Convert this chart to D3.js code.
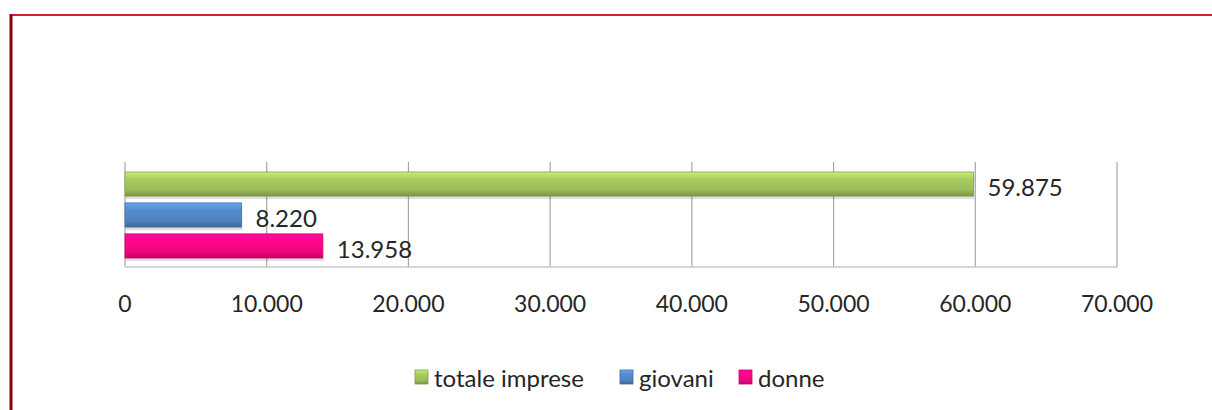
<!DOCTYPE html>
<html>
<head>
<meta charset="utf-8">
<script src="https://cdn.jsdelivr.net/npm/d3@7"></script>
<style>
  body { margin: 0; background: #fff; }
  text { font-family: Lato, "Open Sans", sans-serif; fill: #262626; }
</style>
</head>
<body>
<svg id="chart" width="1212" height="410"></svg>
<script>
// data
const categories = ["totale imprese", "giovani", "donne"];
const values = [59875, 8220, 13958];
const tickValues = [0, 10000, 20000, 30000, 40000, 50000, 60000, 70000];
const colors = ["#9bbb59", "#4f81bd", "#f0067f"];

const svg = d3.select("#chart");
const margin = {top: 163, left: 125, right: 95, bottom: 143};
const width = 1212 - margin.left - margin.right;
const height = 410 - margin.top - margin.bottom;

// red frame (top and left only visible)
svg.append("line").attr("x1", 10).attr("x2", 1212).attr("y1", 15).attr("y2", 15)
    .attr("stroke", "#d0202a").attr("stroke-width", 2);
svg.append("line").attr("x1", 11).attr("x2", 11).attr("y1", 14).attr("y2", 410)
    .attr("stroke", "#8a0008").attr("stroke-width", 3);

// gradients for the bevelled bars
let defs = svg.append("defs");
colors.forEach((c, i) => {
    let g = defs.append("linearGradient").attr("id", "grad" + i)
        .attr("x1", 0).attr("x2", 0).attr("y1", 0).attr("y2", 1);
    g.append("stop").attr("offset", "0%").attr("stop-color", d3.color(c).brighter(0.7));
    g.append("stop").attr("offset", "30%").attr("stop-color", d3.color(c).brighter(0.25));
    g.append("stop").attr("offset", "75%").attr("stop-color", c);
    g.append("stop").attr("offset", "100%").attr("stop-color", d3.color(c).darker(0.7));
});

let x = d3.scaleLinear().domain([0, 70000]).range([0, width]);
let y = d3.scaleBand().domain(categories).range([0, height]).paddingInner(0.22).paddingOuter(0.29);

let g = svg.append("g").attr("transform", `translate(${margin.left},${margin.top})`);

// gridlines
g.selectAll(".grid").data(tickValues).enter().append("line")
    .attr("x1", d => x(d)).attr("x2", d => x(d))
    .attr("y1", -1).attr("y2", height)
    .attr("stroke", "#a6a6a6").attr("stroke-width", 1.2);
g.append("line").attr("x1", 0).attr("x2", width).attr("y1", height).attr("y2", height)
    .attr("stroke", "#c8c8c8").attr("stroke-width", 1.5);

// soft shadow under bars
g.selectAll(".shadow").data(values).enter().append("rect")
    .attr("x", 1)
    .attr("y", (d, i) => y(categories[i]) + 3)
    .attr("width", d => x(d))
    .attr("height", y.bandwidth())
    .attr("fill", "#000").attr("opacity", 0.12);

// bars
g.selectAll(".bar").data(values).enter().append("rect")
    .attr("x", 0)
    .attr("y", (d, i) => y(categories[i]))
    .attr("width", d => x(d))
    .attr("height", y.bandwidth())
    .attr("fill", (d, i) => "url(#grad" + i + ")")
    .attr("stroke", (d, i) => d3.color(colors[i]).darker(0.4))
    .attr("stroke-width", 0.8);

// value labels
let fmt = d3.formatLocale({decimal: ",", thousands: ".", grouping: [3], currency: ["", ""]}).format(",d");
g.selectAll(".lbl").data(values).enter().append("text")
    .attr("x", d => x(d) + 14)
    .attr("y", (d, i) => y(categories[i]) + y.bandwidth() / 2 + 12)
    .style("font-size", "24px")
    .text(d => fmt(d));

// tick labels
g.selectAll(".tick").data(tickValues).enter().append("text")
    .attr("x", d => x(d))
    .attr("y", height + 45)
    .attr("text-anchor", "middle")
    .style("font-size", "23px")
    .text(d => fmt(d));

// legend
let legendX = [415, 620, 739];
let legend = svg.selectAll(".legend").data(categories).enter().append("g")
    .attr("transform", (d, i) => `translate(${legendX[i]},377)`);
legend.append("rect").attr("x", 0).attr("y", -7).attr("width", 13).attr("height", 14)
    .attr("fill", (d, i) => "url(#grad" + i + ")")
    .attr("stroke", (d, i) => d3.color(colors[i]).darker(0.5)).attr("stroke-width", 0.8);
legend.append("text").attr("x", 19).attr("y", 10)
    .style("font-size", "24px")
    .text(d => d);
</script>
</body>
</html>
